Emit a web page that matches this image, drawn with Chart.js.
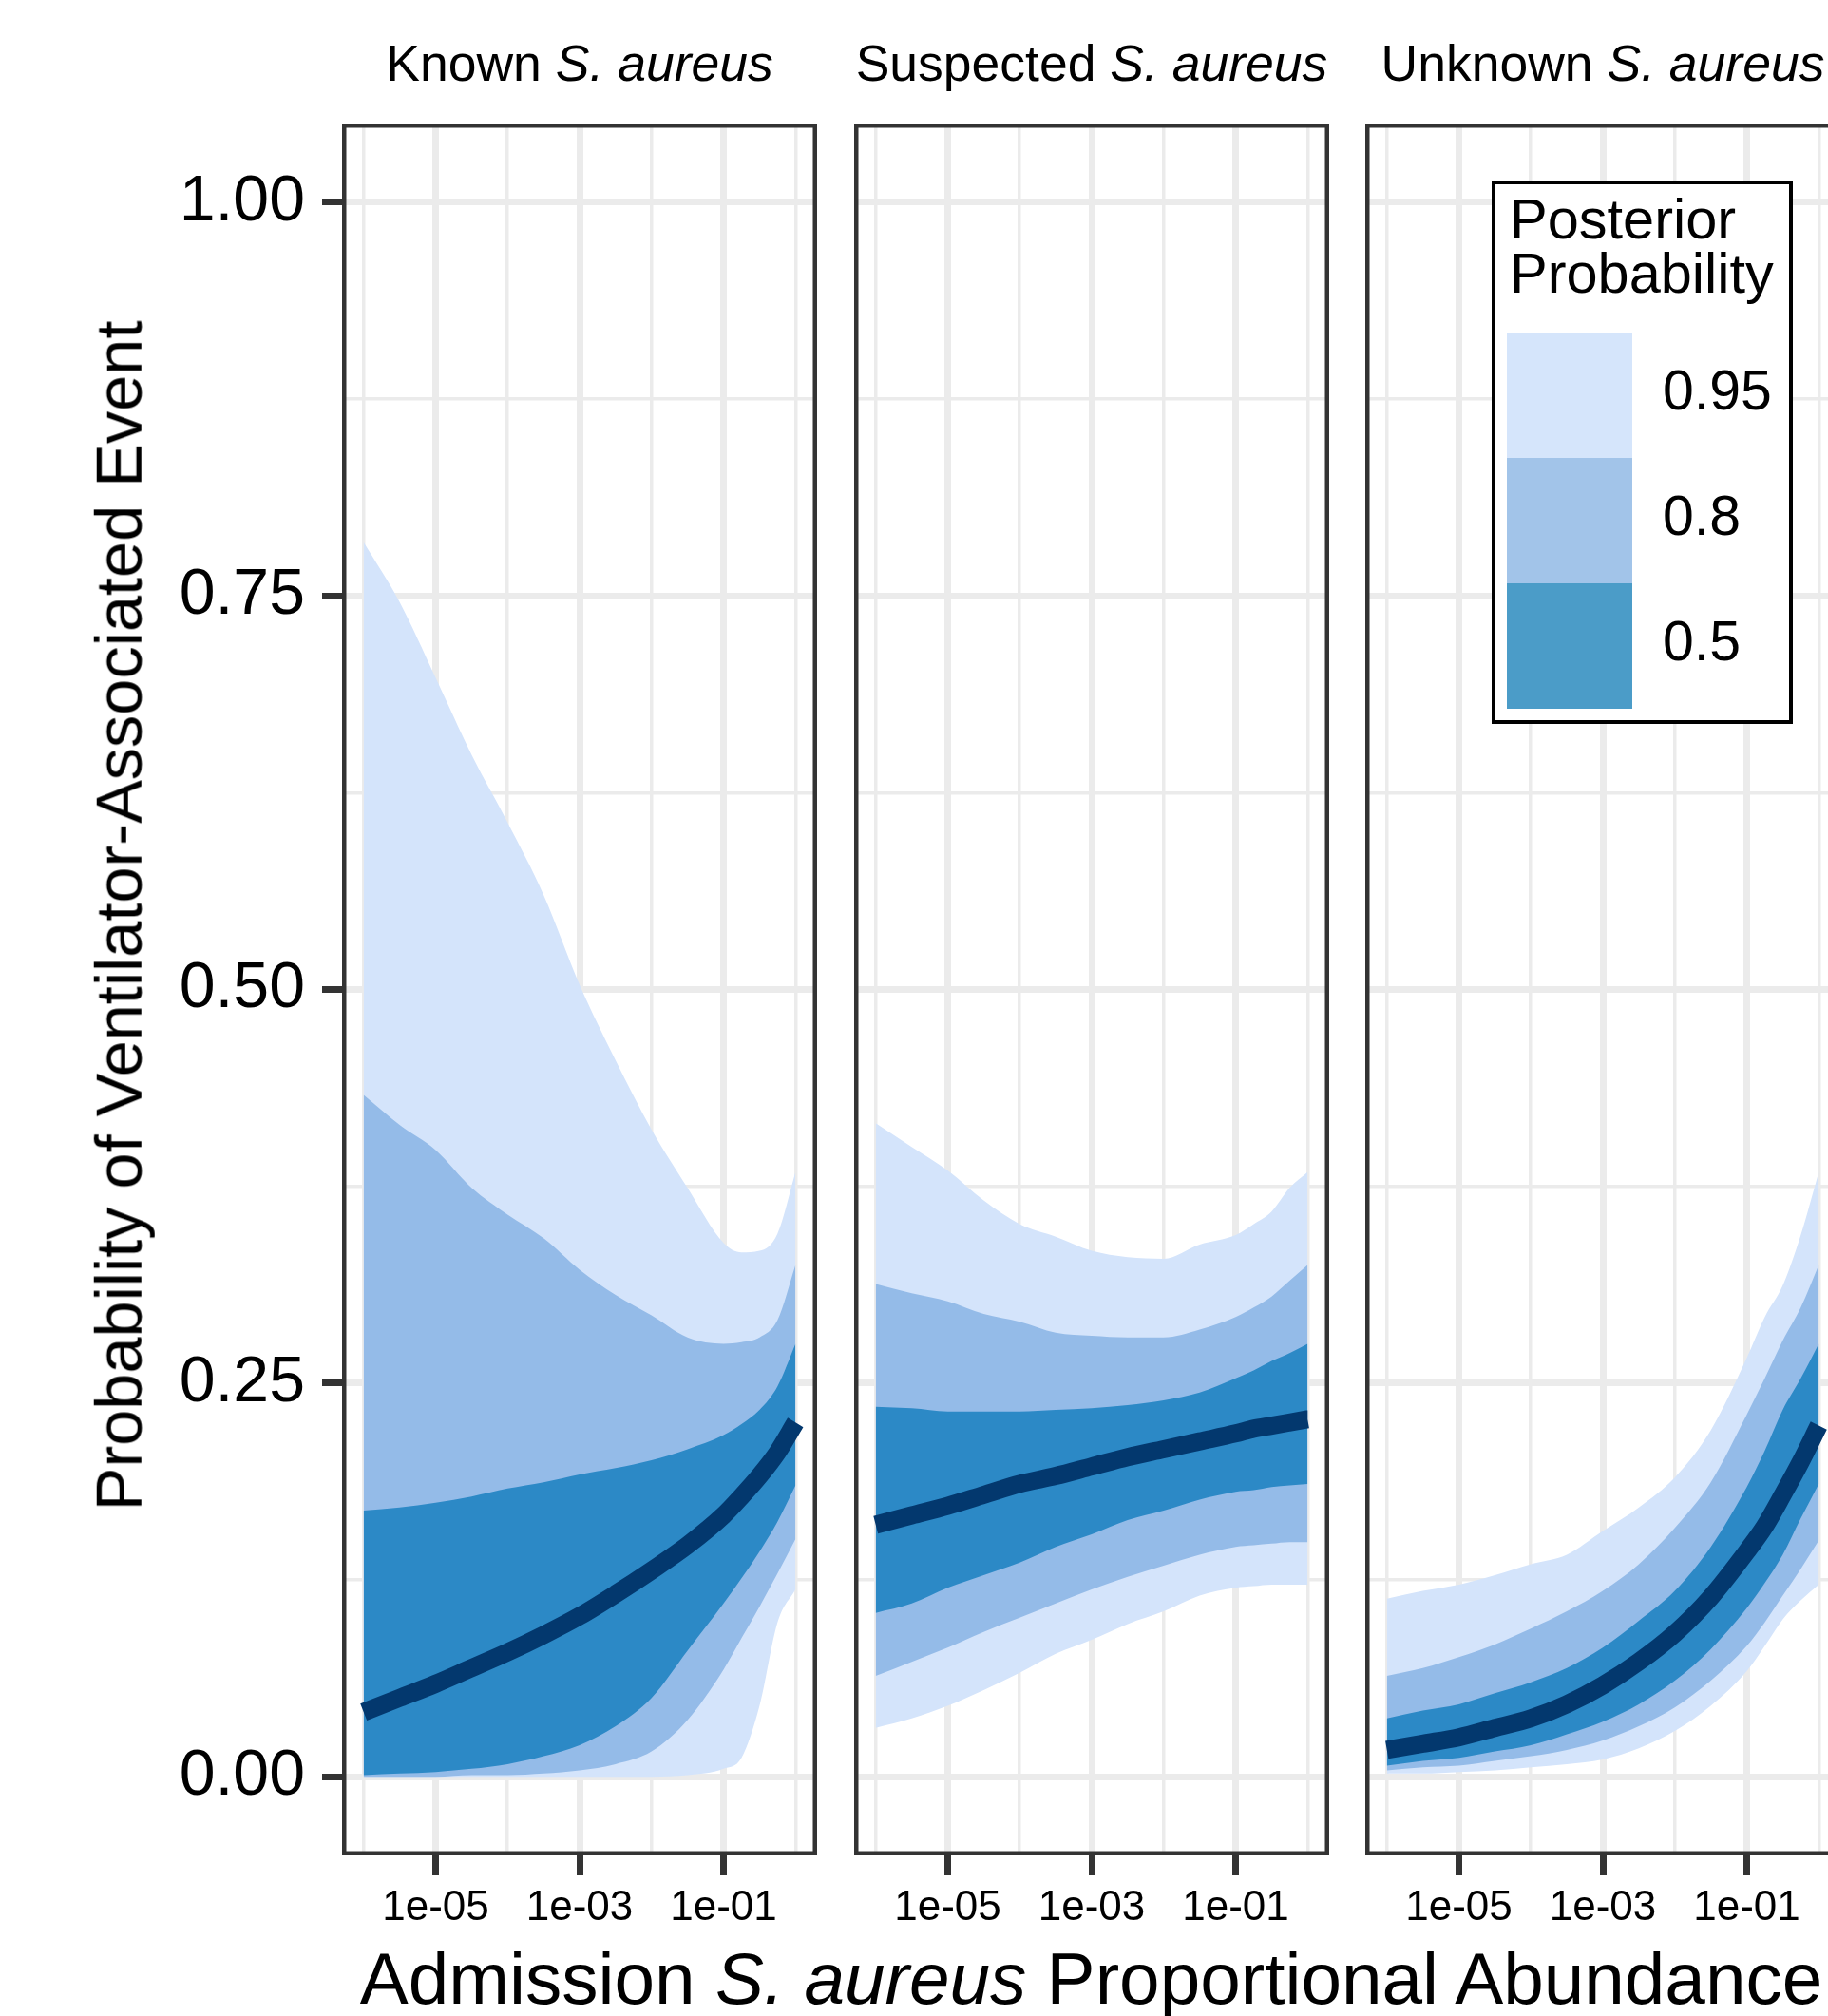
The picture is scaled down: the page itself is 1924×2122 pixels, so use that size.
<!DOCTYPE html>
<html>
<head>
<meta charset="utf-8">
<script src="https://cdn.jsdelivr.net/npm/chart.js@4.4.1/dist/chart.umd.min.js"></script>
<style>
  html, body { margin: 0; padding: 0; background: #fff; overflow: hidden; }
  #page { position: relative; width: 1924px; height: 2122px; overflow: hidden;
          font-family: "Liberation Sans", Arial, Helvetica, sans-serif; color: #000; }
  #page canvas { position: absolute; top: 0; }
  .txt { position: absolute; white-space: nowrap; line-height: 1; }
  .strip { font-size: 53.5px; top: 39.7px; transform: translateX(-50%); }
  .key { position: absolute; left: 1586px; width: 132px; height: 132px; }
  .keylabel { font-size: 59px; left: 1750px; }
</style>
</head>
<body>
<div id="page">
  <canvas id="known" width="860" height="2122" style="left:0px"></canvas>
  <canvas id="suspected" width="500" height="2122" style="left:899px"></canvas>
  <canvas id="unknown" width="500" height="2122" style="left:1437px"></canvas>

  <div class="txt strip" style="left:610px">Known <i>S. aureus</i></div>
  <div class="txt strip" style="left:1149px">Suspected <i>S. aureus</i></div>
  <div class="txt strip" style="left:1687px">Unknown <i>S. aureus</i></div>

  <div class="txt" style="left:126px; top:964px; font-size:68.5px; transform: translate(-50%, -50%) rotate(-90deg);">Probability of Ventilator-Associated Event</div>
  <div class="txt" style="left:1148.5px; top:2045px; font-size:76.5px; transform: translateX(-50%);">Admission <i>S. aureus</i> Proportional Abundance</div>

  <div style="position:absolute; left:1570px; top:189.5px; width:317px; height:572.5px; border:4px solid #000; box-sizing:border-box; background:#fff;"></div>
  <div class="txt" style="left:1589px; top:201px; font-size:59.5px;">Posterior</div>
  <div class="txt" style="left:1589px; top:257.5px; font-size:59.5px;">Probability</div>
  <div id="legend-keys"></div>
</div>

<script>
// abundance on a log10 scale, shared by every series
const xLog = [-6, -5.5, -5, -4.5, -4, -3.5, -3, -2.5, -2, -1.5, -1, -0.75, -0.5, -0.25, 0];

const xGridValues = [-6, -5, -4, -3, -2, -1, 0];
const xTickValues = [-5, -3, -1];
const xTickLabels = ["1e-05", "1e-03", "1e-01"];

const yGridValues = [0, 0.125, 0.25, 0.375, 0.5, 0.625, 0.75, 0.875, 1];
const yTickValues = [0, 0.25, 0.5, 0.75, 1];
const yTickLabels = ["0.00", "0.25", "0.50", "0.75", "1.00"];

const legendLevels = ["0.95", "0.8", "0.5"];
const legendColors = ["#D5E5FB", "#A2C4E9", "#4B9CC8"];

// Known S. aureus
const knownUpper95 = [0.784, 0.746, 0.698, 0.649, 0.606, 0.56, 0.503, 0.455, 0.411, 0.374, 0.339, 0.333, 0.334, 0.345, 0.384];
const knownUpper80 = [0.433, 0.414, 0.398, 0.374, 0.357, 0.342, 0.322, 0.306, 0.293, 0.279, 0.275, 0.276, 0.279, 0.29, 0.325];
const knownUpper50 = [0.169, 0.171, 0.174, 0.178, 0.183, 0.187, 0.192, 0.196, 0.201, 0.208, 0.217, 0.224, 0.233, 0.248, 0.275];
const knownMedian = [0.041, 0.05, 0.059, 0.069, 0.079, 0.09, 0.102, 0.116, 0.131, 0.147, 0.166, 0.178, 0.191, 0.206, 0.225];
const knownLower50 = [0.001, 0.002, 0.003, 0.005, 0.008, 0.013, 0.02, 0.032, 0.05, 0.08, 0.11, 0.126, 0.143, 0.162, 0.185];
const knownLower80 = [0, 0, 0, 0.001, 0.001, 0.002, 0.004, 0.008, 0.016, 0.036, 0.068, 0.088, 0.108, 0.129, 0.151];
const knownLower95 = [0, 0, 0, 0, 0, 0, 0, 0, 0, 0.001, 0.005, 0.012, 0.045, 0.098, 0.119];

// Suspected S. aureus
const suspectedUpper95 = [0.415, 0.4, 0.385, 0.366, 0.351, 0.343, 0.334, 0.33, 0.329, 0.338, 0.344, 0.351, 0.359, 0.374, 0.384];
const suspectedUpper80 = [0.313, 0.307, 0.302, 0.294, 0.289, 0.282, 0.28, 0.279, 0.279, 0.284, 0.292, 0.298, 0.305, 0.315, 0.325];
const suspectedUpper50 = [0.235, 0.234, 0.232, 0.232, 0.232, 0.233, 0.234, 0.236, 0.239, 0.244, 0.253, 0.258, 0.264, 0.269, 0.275];
const suspectedMedian = [0.16, 0.166, 0.172, 0.179, 0.186, 0.191, 0.197, 0.203, 0.208, 0.213, 0.218, 0.221, 0.223, 0.225, 0.227];
const suspectedLower50 = [0.104, 0.11, 0.12, 0.128, 0.136, 0.146, 0.154, 0.163, 0.169, 0.176, 0.181, 0.182, 0.184, 0.185, 0.186];
const suspectedLower80 = [0.064, 0.073, 0.082, 0.092, 0.101, 0.11, 0.119, 0.127, 0.134, 0.141, 0.146, 0.147, 0.148, 0.149, 0.149];
const suspectedLower95 = [0.031, 0.037, 0.045, 0.055, 0.066, 0.078, 0.087, 0.097, 0.105, 0.115, 0.12, 0.121, 0.122, 0.122, 0.122];

// Unknown S. aureus
const unknownUpper95 = [0.113, 0.118, 0.122, 0.128, 0.135, 0.141, 0.156, 0.171, 0.19, 0.22, 0.266, 0.292, 0.312, 0.344, 0.384];
const unknownUpper80 = [0.064, 0.069, 0.076, 0.084, 0.094, 0.105, 0.118, 0.135, 0.158, 0.187, 0.23, 0.253, 0.277, 0.298, 0.325];
const unknownUpper50 = [0.037, 0.042, 0.046, 0.053, 0.06, 0.069, 0.082, 0.099, 0.118, 0.146, 0.184, 0.207, 0.233, 0.253, 0.275];
const unknownMedian = [0.017, 0.021, 0.025, 0.031, 0.037, 0.046, 0.058, 0.073, 0.091, 0.114, 0.143, 0.159, 0.179, 0.2, 0.223];
const unknownLower50 = [0.007, 0.01, 0.012, 0.016, 0.02, 0.027, 0.035, 0.046, 0.061, 0.081, 0.107, 0.123, 0.141, 0.164, 0.186];
const unknownLower80 = [0.004, 0.006, 0.007, 0.01, 0.013, 0.017, 0.023, 0.032, 0.044, 0.061, 0.083, 0.098, 0.115, 0.132, 0.15];
const unknownLower95 = [0.002, 0.002, 0.003, 0.004, 0.006, 0.008, 0.011, 0.018, 0.029, 0.045, 0.067, 0.083, 0.1, 0.112, 0.122];

const MEDIAN_COLOR = "#03386E";
const BAND_95 = "#D4E4FB";
const BAND_80 = "#94BBE8";
const BAND_50 = "#2C89C6";
const GRID_COLOR = "#EBEBEB";
const AXIS_COLOR = "#333333";
const FONT = '"Liberation Sans", Arial, Helvetica, sans-serif';

Chart.defaults.font.family = FONT;
Chart.defaults.color = "#000";

const toPoints = (ys) => xLog.map((x, i) => ({ x: x, y: ys[i] }));

// draws the dark frame round each facet, on top of the ribbons
const panelBorder = {
  id: "panelBorder",
  afterDatasetsDraw(chart) {
    const { ctx, chartArea: a } = chart;
    ctx.save();
    ctx.strokeStyle = AXIS_COLOR;
    ctx.lineWidth = 4.5;
    ctx.strokeRect(a.left + 2.25, a.top + 2.25, a.width - 4.5, a.height - 4.5);
    ctx.restore();
  }
};

// upper bound fills down to the lower bound that follows it ("+1")
const ribbon = (upper, lower, color) => [
  { data: toPoints(upper), borderColor: "transparent", borderWidth: 0, backgroundColor: color, fill: "+1" },
  { data: toPoints(lower), borderColor: "transparent", borderWidth: 0, fill: false }
];

const buildConfig = (series, showYAxis) => ({
  type: "line",
  data: {
    datasets: [
      {
        data: toPoints(series.median),
        borderColor: MEDIAN_COLOR,
        borderWidth: 19,
        borderCapStyle: "butt",
        fill: false
      },
      ...ribbon(series.upper50, series.lower50, BAND_50),
      ...ribbon(series.upper80, series.lower80, BAND_80),
      ...ribbon(series.upper95, series.lower95, BAND_95)
    ]
  },
  options: {
    responsive: false,
    animation: false,
    events: [],
    layout: { autoPadding: false, padding: { top: 130, left: 0, right: 0, bottom: 0 } },
    elements: {
      point: { radius: 0 },
      line: { cubicInterpolationMode: "monotone" }
    },
    plugins: {
      legend: { display: false },
      tooltip: { enabled: false }
    },
    scales: {
      x: {
        type: "linear",
        min: -6.3,
        max: 0.3,
        afterBuildTicks: (scale) => {
          scale.ticks = xGridValues.map((v) => ({ value: v }));
        },
        afterFit: (scale) => {
          scale.height = 169;
        },
        border: { display: false },
        grid: {
          color: GRID_COLOR,
          lineWidth: (ctx) => (ctx.tick && xTickValues.includes(ctx.tick.value) ? 7 : 3.5),
          tickLength: 21,
          tickWidth: 7,
          tickColor: (ctx) => (ctx.tick && xTickValues.includes(ctx.tick.value) ? AXIS_COLOR : "rgba(0,0,0,0)")
        },
        ticks: {
          autoSkip: false,
          maxRotation: 0,
          minRotation: 0,
          padding: 8,
          color: "#000",
          font: { size: 44 },
          callback: (value) => {
            const i = xTickValues.indexOf(value);
            return i >= 0 ? xTickLabels[i] : "";
          }
        }
      },
      y: {
        type: "linear",
        min: -0.05,
        max: 1.05,
        afterBuildTicks: (scale) => {
          scale.ticks = yGridValues.map((v) => ({ value: v }));
        },
        afterFit: (scale) => {
          scale.width = showYAxis ? 360 : 0;
        },
        border: { display: false },
        grid: {
          color: GRID_COLOR,
          lineWidth: (ctx) => (ctx.tick && yTickValues.includes(ctx.tick.value) ? 7 : 3.5),
          drawTicks: showYAxis,
          tickLength: 21,
          tickWidth: 7,
          tickColor: (ctx) => (ctx.tick && yTickValues.includes(ctx.tick.value) ? AXIS_COLOR : "rgba(0,0,0,0)")
        },
        ticks: {
          display: showYAxis,
          padding: 18,
          color: "#000",
          font: { size: 68 },
          callback: (value) => {
            const i = yTickValues.indexOf(value);
            return i >= 0 ? yTickLabels[i] : "";
          }
        }
      }
    }
  },
  plugins: [panelBorder]
});

const createChart = (elementId, chartConfig) => {
  const context = document.getElementById(elementId).getContext("2d");
  return new Chart(context, chartConfig);
};

createChart("known", buildConfig({
  median: knownMedian,
  upper50: knownUpper50, lower50: knownLower50,
  upper80: knownUpper80, lower80: knownLower80,
  upper95: knownUpper95, lower95: knownLower95
}, true));

createChart("suspected", buildConfig({
  median: suspectedMedian,
  upper50: suspectedUpper50, lower50: suspectedLower50,
  upper80: suspectedUpper80, lower80: suspectedLower80,
  upper95: suspectedUpper95, lower95: suspectedLower95
}, false));

createChart("unknown", buildConfig({
  median: unknownMedian,
  upper50: unknownUpper50, lower50: unknownLower50,
  upper80: unknownUpper80, lower80: unknownLower80,
  upper95: unknownUpper95, lower95: unknownLower95
}, false));

// legend keys for the ribbon levels
const keysHolder = document.getElementById("legend-keys");
legendLevels.forEach((level, i) => {
  const key = document.createElement("div");
  key.className = "key";
  key.style.top = 350 + i * 132 + "px";
  key.style.background = legendColors[i];
  keysHolder.appendChild(key);

  const label = document.createElement("div");
  label.className = "txt keylabel";
  label.style.top = 382 + i * 132 + "px";
  label.textContent = level;
  keysHolder.appendChild(label);
});
</script>
</body>
</html>
